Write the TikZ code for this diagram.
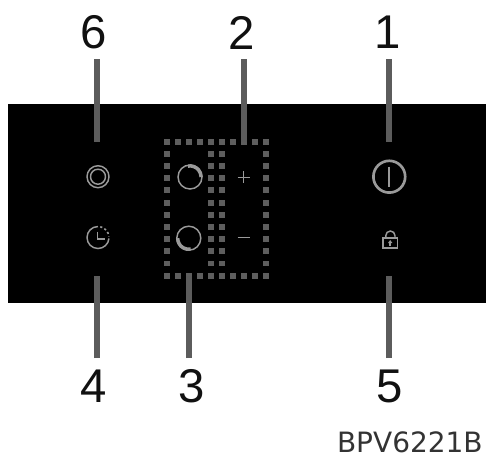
\documentclass[tikz,border=0pt]{standalone}
\usepackage{fontspec}
\setmainfont{Liberation Sans}
\newfontfamily\verd{DejaVu Sans}
\definecolor{dotc}{HTML}{5E5E5E}
\definecolor{leadc}{HTML}{5C5C5C}
\definecolor{iconc}{HTML}{9A9A9A}
\definecolor{txtc}{HTML}{111111}
\definecolor{modelc}{HTML}{333333}
\tikzset{
 x=0.75pt,y=-0.75pt,
 dotsq/.style={fill=dotc,draw=none,minimum size=4.4pt,inner sep=0pt,rectangle},
 leader/.style={draw=leadc,line width=4.4pt},
 icon/.style={draw=iconc,line width=1.1pt},
 thick arc/.style={draw=iconc,line width=2.6pt},
 numlabel/.style={font=\fontsize{35.5pt}{35.5pt}\selectfont,text=txtc,inner sep=0pt},
}
\begin{document}
\begin{tikzpicture}
\useasboundingbox (0,0) rectangle (486,458);
\fill[white] (0,0) rectangle (486,458);
\fill[black] (8,104) rectangle (486,302.7);
% dotted frame
\foreach \i in {0,...,9}{
 \node[dotsq] (t\i) at ({167.3+11*\i},141.7) {};
 \node[dotsq] (b\i) at ({167.3+11*\i},275.7) {};
}
\foreach \cx in {167.3,211.3,222.3,266.3}{
 \foreach \j in {1,...,10}{
  \node[dotsq] at (\cx,{141.7+12.18*\j}) {};
 }
}
% labels
\node[numlabel] (n6) at (94,32.5) {6};
\node[numlabel] (n2) at (242,32.5) {2};
\node[numlabel] (n1) at (388,32.5) {1};
\node[numlabel] (n4) at (93.5,386) {4};
\node[numlabel] (n3) at (191.5,386) {3};
\node[numlabel] (n5) at (390,386) {5};
\node[font=\verd\fontsize{21pt}{21pt}\selectfont,text=modelc,inner sep=0pt,anchor=east] (model) at (483,442.5) {BPV6221B};
% leaders
\coordinate (l6) at (96.7,59.3); \coordinate (e6) at (96.7,141.7);
\coordinate (l2) at (244.3,59.3); \coordinate (e2) at (244.3,141.7);
\coordinate (l1) at (389.3,59.3); \coordinate (e1) at (389.3,141.7);
\coordinate (l4) at (96.7,358); \coordinate (e4) at (96.7,275.7);
\coordinate (l3) at (189,358); \coordinate (e3) at (189,275.7);
\coordinate (l5) at (389.3,358); \coordinate (e5) at (389.3,275.7);
\foreach \k in {1,...,6}{\draw[leader] (l\k) -- (e\k);}
% double ring
\draw[icon] (98,176.7) circle[radius=11];
\draw[icon] (98,176.7) circle[radius=7.5];
% clock
\draw[icon] (98,237.5) ++(-90:11) arc[start angle=-90,end angle=-355,radius=11];
\draw[icon] (97.3,231.7) -- (97.3,239) -- (105,239);
\draw[draw=iconc,line width=1.2pt,dash pattern=on 1.6pt off 1.8pt] (98,237.5) ++(-78:11) arc[start angle=-78,end angle=-5,radius=11];
% knobs
\draw[icon] (190,177) circle[radius=12];
\draw[thick arc] (190,177) ++(-100:11.1) arc[start angle=-100,end angle=0,radius=11.1];
\draw[icon] (188.8,238.2) circle[radius=12];
\draw[thick arc] (188.8,238.2) ++(-180:11.1) arc[start angle=-180,end angle=-280,radius=11.1];
% plus minus
\draw[icon] (237.7,177.3) -- (249.7,177.3) (243.7,171.3) -- (243.7,183.3);
\draw[icon] (237.7,237.7) -- (249.7,237.7);
% power
\draw[draw=iconc,line width=2pt] (389.3,176.7) circle[radius=15.9];
\draw[draw=iconc,line width=1.25pt] (389.3,166.7) -- (389.3,186.7);
% lock
\draw[icon] (383.2,238) rectangle (397.5,248);
\draw[icon] (385.8,238) -- (385.8,235.6) arc[start angle=-180,end angle=0,radius=4.6] -- (395,238);
\fill[iconc] (389,245.5) rectangle (391.4,242.5);
\fill[iconc] (388,243) -- (390.2,240) -- (392.4,243) -- cycle;
\end{tikzpicture}
\end{document}
